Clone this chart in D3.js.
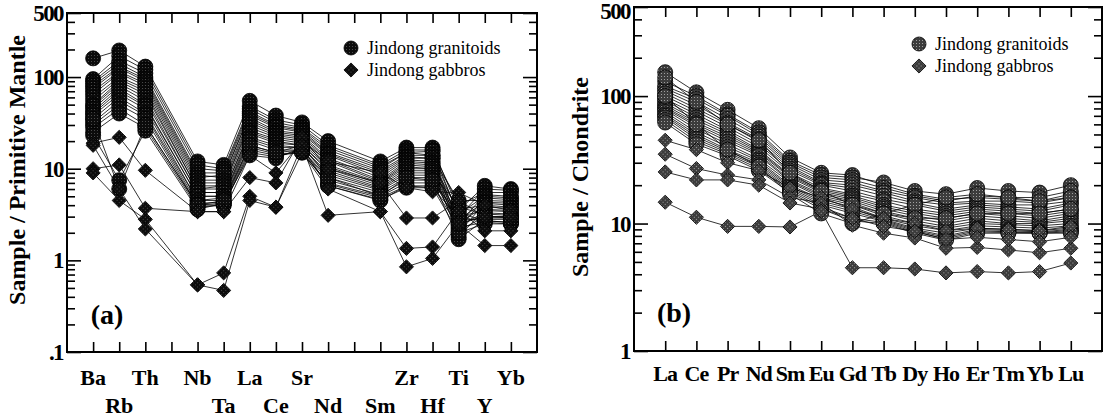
<!DOCTYPE html>
<html>
<head>
<meta charset="utf-8">
<script src="https://cdn.jsdelivr.net/npm/d3@7"></script>
<style>
  body { margin: 0; background: #fff; }
  svg { display: block; font-family: "Liberation Serif", "Times New Roman", serif; }
</style>
</head>
<body>
<div id="chart"></div>
<script>
// ---- data ----
// spidergram slots (blank slots keep a tick but no element)
const spiderLabels = ["Ba", "Rb", "Th", "", "Nb", "Ta", "La", "Ce", "Sr", "Nd", "", "Sm", "Zr", "Hf", "Ti", "Y", "Yb"];
// values for the non-blank slots: Ba Rb Th Nb Ta La Ce Sr Nd Sm Zr Hf Ti Y Yb
const spiderGranitoids = [
  [160, 195, 130, 12, 11, 55, 38, 32, 20, 12, 17, 17, 3.5, 6.5, 6],
  [95, 170, 120, 11, 10, 48, 34, 30, 18, 11, 16, 16, 3.0, 6.0, 5.8],
  [90, 150, 110, 10, 9.5, 45, 32, 28, 17, 10.5, 15, 15.5, 4.0, 5.5, 5.5],
  [85, 140, 100, 9, 9, 42, 30, 27, 16, 10, 15, 14, 2.5, 5.2, 5],
  [80, 130, 95, 8.5, 8, 40, 29, 26, 15, 9.5, 14, 14, 3.2, 5, 4.8],
  [75, 125, 90, 8, 8.5, 38, 28, 25, 14.5, 9, 13.5, 13, 2.2, 4.8, 4.6],
  [70, 115, 85, 7.5, 7.5, 36, 26, 24, 14, 8.5, 13, 13, 4.5, 4.5, 4.4],
  [65, 110, 80, 7, 7, 34, 25, 23, 13, 8, 12.5, 12, 2.8, 4.3, 4.2],
  [60, 100, 75, 6.5, 6.5, 32, 24, 22, 12.5, 7.5, 12, 11.5, 2.0, 4.2, 4.0],
  [55, 95, 70, 6, 6.5, 30, 23, 21, 12, 7.2, 11.5, 11, 3.6, 4.0, 3.8],
  [50, 90, 65, 6, 6, 28, 22, 20, 11, 7, 11, 10.5, 2.6, 3.8, 3.7],
  [48, 85, 60, 5.5, 5.5, 26, 21, 19, 10.5, 6.8, 10.5, 10, 1.8, 3.6, 3.5],
  [45, 80, 55, 5.5, 5.5, 25, 20, 18, 10, 6.5, 10, 10, 3.0, 3.5, 3.4],
  [42, 75, 50, 5, 5, 24, 19, 18, 9.5, 6.2, 9.5, 9.5, 2.4, 3.3, 3.2],
  [40, 70, 48, 5, 5, 22, 18, 17, 9, 6, 9, 9, 3.8, 3.2, 3.1],
  [38, 65, 45, 4.5, 4.8, 21, 17, 17, 8.5, 5.8, 8.5, 8.5, 2.1, 3.0, 3.0],
  [35, 60, 40, 4.5, 4.5, 20, 16, 16, 8, 5.5, 8, 8, 2.7, 2.9, 2.9],
  [32, 55, 38, 4.2, 4.3, 18, 15, 16, 7.5, 5.2, 7.5, 7.5, 1.7, 2.8, 2.8],
  [30, 50, 35, 4, 4.2, 17, 14.5, 15, 7, 5, 7, 7, 3.3, 2.7, 2.6],
  [28, 45, 30, 4, 4, 16, 14, 15, 6.8, 4.8, 6.5, 6.5, 2.3, 2.6, 2.5],
  [25, 40, 28, 3.8, 4, 15, 13.5, 16, 6.5, 4.6, 6.2, 6.2, 2.0, 2.5, 2.5],
  [23, 7.5, 26, 3.6, 4.2, 14, 13, 17, 6.5, 4.5, 6.5, 6.2, 2.9, 2.7, 2.6],
  [35, 6, 30, 4, 4.5, 18, 15, 18, 8, 5, 8, 7.5, 2.5, 3, 2.9]
];
const spiderGabbros = [
  [19, 22, 9.6, 3.4, 3.4, 14, 9, 20, 12, 9, 6.2, 5.6, 5.5, 4, 3.5],
  [10, 11, 3.7, 3.4, 3.4, 8, 7, 22, 10, 7, 2.9, 2.9, 4.5, 3, 3],
  [9, 4.5, 2.8, 0.54, 0.73, 5, 3.8, 18, 3.1, 3.4, 1.35, 1.4, 3.5, 2.1, 2.1],
  [18, 6, 2.2, 0.54, 0.47, 4.5, 3.8, 15, 6, 3.4, 0.85, 1.05, 2.5, 1.45, 1.45]
];

const reeLabels = ["La", "Ce", "Pr", "Nd", "Sm", "Eu", "Gd", "Tb", "Dy", "Ho", "Er", "Tm", "Yb", "Lu"];
const reeGranitoids = [
  [154, 107, 78, 56, 33, 25, 24, 20, 17, 15.5, 16, 15.5, 15, 17],
  [130, 100, 72, 52, 31, 24, 23, 21, 18, 17, 19, 18, 17.5, 20],
  [120, 95, 70, 50, 30, 23, 22, 19, 16.5, 15, 16.5, 16, 16, 18],
  [115, 90, 66, 48, 29, 22, 21, 18, 16, 14.5, 15, 15, 14.5, 16],
  [110, 85, 62, 46, 28, 21, 20, 17.5, 15, 14, 14.5, 14, 14, 15],
  [105, 80, 60, 44, 27, 20.5, 19, 16.5, 14.5, 13, 14, 13.5, 13, 14.5],
  [100, 76, 57, 42, 26, 20, 18, 15.5, 14, 12.5, 13.5, 13, 12.5, 14],
  [95, 72, 54, 40, 25, 19, 17, 15, 13, 12, 13, 12.5, 12, 13],
  [92, 68, 52, 38, 24, 18.5, 16.5, 14, 12.5, 11.5, 12.5, 12, 11.5, 12.5],
  [88, 65, 50, 37, 23.5, 18, 16, 13.5, 12, 11, 12, 11.5, 11, 12],
  [85, 62, 48, 36, 23, 17.5, 15.5, 13, 11.5, 10.5, 11.5, 11, 10.5, 11.5],
  [82, 60, 46, 35, 22, 17, 15, 12.5, 11, 10, 11, 10.5, 10.2, 11],
  [80, 58, 44, 34, 21.5, 16.5, 14.5, 12, 10.5, 9.5, 10.5, 10, 10, 10.5],
  [78, 55, 42, 32, 21, 16, 14, 11.5, 10, 9.2, 10, 9.8, 9.6, 10],
  [75, 52, 40, 31, 20, 15.5, 13.5, 11, 9.6, 8.8, 9.6, 9.4, 9.2, 9.6],
  [72, 50, 38, 30, 19.5, 15, 13, 10.8, 9.2, 8.4, 9.2, 9, 8.8, 9.2],
  [70, 48, 37, 29, 19, 14.5, 12.5, 10.6, 9, 8, 9, 8.8, 8.6, 9],
  [68, 46, 36, 28, 18.5, 14, 12, 10.4, 8.8, 7.8, 8.8, 8.6, 8.5, 8.8],
  [65, 44, 35, 27, 18, 13.5, 11, 10.2, 8.6, 7.6, 8.6, 8.5, 8.4, 8.6],
  [62, 42, 34, 26, 17.5, 13, 10.5, 10, 8.4, 7.4, 8.4, 8.4, 8.4, 8.4],
  [100, 60, 38, 28, 17, 12, 10, 12, 14, 16, 17, 16, 15, 16],
  [140, 90, 60, 45, 25, 18, 14, 12, 11, 11, 12, 12, 12, 13]
];
const reeGabbros = [
  [45, 38, 30, 26, 19, 16, 13, 11, 10, 8.8, 9.2, 9, 8.8, 9.5],
  [35, 27, 24, 22, 16, 14.5, 9.7, 8.4, 7.7, 6.4, 6.5, 6.2, 5.9, 6.4],
  [25.4, 22, 22, 20, 14.5, 13, 11, 9.5, 8.7, 7.5, 7.8, 7.5, 7.2, 7.8],
  [14.7, 11.2, 9.5, 9.5, 9.4, 12.5, 4.5, 4.5, 4.4, 4.1, 4.2, 4.1, 4.2, 4.9]
];

const yTicksA = [0.1, 1, 10, 100, 500];
const yTickLabelsA = [".1", "1", "10", "100", "500"];
const yTicksB = [1, 10, 100, 500];
const yTickLabelsB = ["1", "10", "100", "500"];
const legendNames = ["Jindong granitoids", "Jindong gabbros"];

// ---- drawing ----
const width = 1109, height = 419;
const svg = d3.select("#chart").append("svg")
  .attr("width", width).attr("height", height);

const defs = svg.append("defs");
function stipple(id, base, dot) {
  const p = defs.append("pattern").attr("id", id)
    .attr("width", 3).attr("height", 3).attr("patternUnits", "userSpaceOnUse");
  p.append("rect").attr("width", 3).attr("height", 3).attr("fill", base);
  p.append("rect").attr("x", 1).attr("y", 1).attr("width", 1).attr("height", 1).attr("fill", dot);
}
stipple("dotA", "#0c0c0c", "#4a4a4a");
stipple("dotB", "#3c3c3c", "#a0a0a0");

const diamond = d3.symbol(d3.symbolSquare, 100);

function minorTicks(lo, hi) {
  const out = [];
  for (let e = Math.floor(Math.log10(lo)); e <= Math.ceil(Math.log10(hi)); e++) {
    for (let m = 2; m <= 9; m++) {
      const v = m * Math.pow(10, e);
      if (v > lo && v < hi) out.push(v);
    }
  }
  return out;
}

function drawPanel(p) {
  const g = svg.append("g");
  const x = d3.scaleLinear().domain([0, p.slots + 1]).range([p.left, p.right]);
  const y = d3.scaleLog().domain(p.yDomain).range([p.bottom, p.top]);
  const slotIdx = d3.range(p.slots);
  const minors = minorTicks(p.yDomain[0], p.yDomain[1]).filter(v => !p.yTicks.includes(v));

  // ticks (inward) via d3 axes
  const tickAxis = (axis, tr) => g.append("g").attr("transform", tr).call(axis)
    .call(s => s.select(".domain").remove())
    .call(s => s.selectAll("text").remove())
    .call(s => s.selectAll("line").attr("stroke", "#000").attr("stroke-width", 1.6));
  const xt = slotIdx.map(i => i + 1);
  tickAxis(d3.axisBottom(x).tickValues(xt).tickSize(-10), `translate(0,${p.bottom})`);
  tickAxis(d3.axisTop(x).tickValues(xt).tickSize(-10), `translate(0,${p.top})`);
  tickAxis(d3.axisLeft(y).tickValues(p.yTicks).tickSize(-14), `translate(${p.left},0)`);
  tickAxis(d3.axisLeft(y).tickValues(minors).tickSize(-8), `translate(${p.left},0)`);
  tickAxis(d3.axisRight(y).tickValues(p.yTicks).tickSize(-14), `translate(${p.right},0)`);
  tickAxis(d3.axisRight(y).tickValues(minors).tickSize(-8), `translate(${p.right},0)`);

  // frame
  g.append("rect").attr("x", p.left).attr("y", p.top)
    .attr("width", p.right - p.left).attr("height", p.bottom - p.top)
    .attr("fill", "none").attr("stroke", "#000").attr("stroke-width", 2);

  // y tick labels
  g.selectAll(".ylab").data(p.yTicks).enter().append("text")
    .attr("x", p.left - 4).attr("y", d => Math.max(y(d) + 8, 19))
    .attr("text-anchor", "end").attr("font-weight", "bold").attr("font-size", 23)
    .attr("letter-spacing", -1.6)
    .text((d, i) => p.yTickLabels[i]);

  // x tick labels
  g.selectAll(".xlab").data(slotIdx.filter(i => p.labels[i] !== "")).enter().append("text")
    .attr("x", i => x(i + 1)).attr("y", i => p.twoRows && i % 2 === 1 ? p.labelY2 : p.labelY)
    .attr("text-anchor", "middle").attr("font-weight", "bold").attr("font-size", 22)
    .attr("letter-spacing", p.twoRows ? 0 : -1)
    .text(i => p.labels[i]);

  // axis title
  g.append("text")
    .attr("transform", `translate(${p.titleX},${p.titleY}) rotate(-90)`)
    .attr("text-anchor", "middle").attr("font-weight", "bold").attr("font-size", 24)
    .text(p.title);

  // panel tag
  g.append("text").attr("x", p.tagX).attr("y", p.tagY)
    .attr("text-anchor", "middle").attr("font-weight", "bold").attr("font-size", 28)
    .text(p.tag);

  const pos = slotIdx.filter(i => p.labels[i] !== "").map(i => i + 1);
  const toPts = row => row.map((v, k) => [pos[k], v]);
  const line = d3.line().x(d => x(d[0])).y(d => y(d[1]));
  const all = p.granitoids.map(toPts).concat(p.gabbros.map(toPts));

  g.append("g").selectAll("path").data(all).enter().append("path")
    .attr("d", line).attr("fill", "none").attr("stroke", "#000").attr("stroke-width", 0.8);

  g.append("g").selectAll("circle").data(p.granitoids.flatMap(toPts)).enter().append("circle")
    .attr("cx", d => x(d[0])).attr("cy", d => y(d[1])).attr("r", 7.5)
    .attr("fill", p.fill).attr("stroke", "#000").attr("stroke-width", 0.8);

  g.append("g").selectAll("path").data(p.gabbros.flatMap(toPts)).enter().append("path")
    .attr("d", diamond)
    .attr("transform", d => `translate(${x(d[0])},${y(d[1])}) rotate(45)`)
    .attr("fill", p.fill).attr("stroke", "#000").attr("stroke-width", 0.8);

  // legend
  const lg = g.append("g");
  lg.append("circle").attr("cx", p.legX).attr("cy", p.legY).attr("r", 7)
    .attr("fill", p.fill).attr("stroke", "#000").attr("stroke-width", 0.8);
  lg.append("path").attr("d", diamond)
    .attr("transform", `translate(${p.legX},${p.legY + 22}) rotate(45)`)
    .attr("fill", p.fill).attr("stroke", "#000").attr("stroke-width", 0.8);
  lg.selectAll("text").data(legendNames).enter().append("text")
    .attr("x", p.legX + 16).attr("y", (d, i) => p.legY + 6 + i * 22)
    .attr("font-size", 18).text(d => d);
}

drawPanel({
  left: 67, right: 537, top: 13, bottom: 352,
  slots: spiderLabels.length, labels: spiderLabels, twoRows: true, labelY: 385, labelY2: 413,
  yDomain: [0.1, 500], yTicks: yTicksA, yTickLabelsA: null, yTickLabels: yTickLabelsA,
  title: "Sample / Primitive Mantle", titleX: 25, titleY: 170,
  tag: "(a)", tagX: 107, tagY: 324,
  granitoids: spiderGranitoids, gabbros: spiderGabbros, fill: "url(#dotA)",
  legX: 351, legY: 48
});

drawPanel({
  left: 634, right: 1102, top: 7, bottom: 351,
  slots: reeLabels.length, labels: reeLabels, twoRows: false, labelY: 381,
  yDomain: [1, 500], yTicks: yTicksB, yTickLabels: yTickLabelsB,
  title: "Sample / Chondrite", titleX: 588, titleY: 177,
  tag: "(b)", tagX: 674, tagY: 322,
  granitoids: reeGranitoids, gabbros: reeGabbros, fill: "url(#dotB)",
  legX: 919, legY: 44
});
</script>
</body>
</html>
